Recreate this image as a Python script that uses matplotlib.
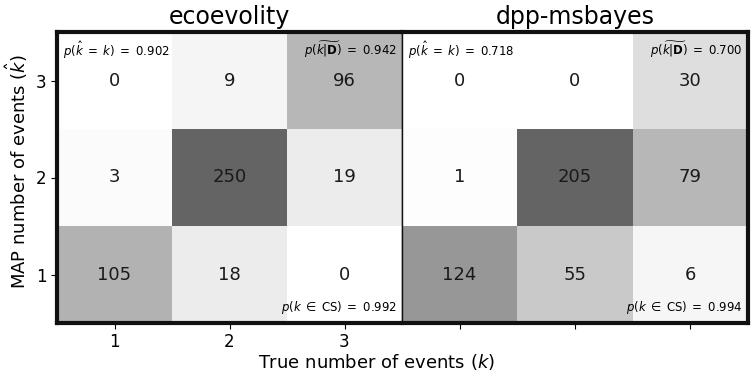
import numpy as np
import matplotlib
matplotlib.use("Agg")
import matplotlib.pyplot as plt
from matplotlib.colors import LinearSegmentedColormap, PowerNorm

plt.rcParams['font.family'] = ['DejaVu Sans']
plt.rcParams['mathtext.fontset'] = 'dejavusans'

methods = ["ecoevolity", "dpp-msbayes"]
true_k = [1, 2, 3]
map_k = [1, 2, 3]
# rows: MAP k = 1,2,3 ; cols: true k = 1,2,3
counts_ecoevolity = [[105, 18, 0],
                     [3, 250, 19],
                     [0, 9, 96]]
counts_dpp = [[124, 55, 6],
              [1, 205, 79],
              [0, 0, 30]]
p_correct = [0.902, 0.718]
p_median = [0.942, 0.700]
p_cs = [0.992, 0.994]

cmap = LinearSegmentedColormap.from_list("g", ["#ffffff", "#646464"])

fig = plt.figure(figsize=(7.51, 3.75), dpi=100)
W, H = 751, 375
left0, right1 = 57, 748
mid = 402
top, bottom = 32, 323
axes = []
axes.append(fig.add_axes([left0 / W, 1 - bottom / H, (mid - left0) / W, (bottom - top) / H]))
axes.append(fig.add_axes([mid / W, 1 - bottom / H, (right1 - mid) / W, (bottom - top) / H]))

all_counts = [counts_ecoevolity, counts_dpp]
for i, ax in enumerate(axes):
    c = np.array(all_counts[i])
    norm = PowerNorm(gamma=0.8, vmin=0, vmax=c.max())
    ax.pcolormesh(np.arange(0.5, 4.5, 1), np.arange(0.5, 4.5, 1), c, cmap=cmap, norm=norm)
    for r in range(3):
        for col in range(3):
            ax.text(true_k[col], map_k[r], str(c[r, col]), ha='center', va='center',
                    fontsize=13, color='#1a1a1a')
    ax.set_xlim(0.5, 3.5)
    ax.set_ylim(0.5, 3.5)
    ax.set_xticks(true_k)
    ax.set_title(methods[i], fontsize=17, pad=6)
    ax.text(0.018, 0.975, r"$p(\hat{k}\;=\;k)\;=$ %.3f" % p_correct[i], transform=ax.transAxes,
            ha='left', va='top', fontsize=8.5)
    ax.text(0.985, 0.975, r"$p(\widetilde{k|\mathbf{D}})\;=$ %.3f" % p_median[i], transform=ax.transAxes,
            ha='right', va='top', fontsize=8.5)
    ax.text(0.985, 0.025, r"$p(k\;\in\;\mathrm{CS})\;=$ %.3f" % p_cs[i], transform=ax.transAxes,
            ha='right', va='bottom', fontsize=8.5)
    ax.tick_params(labelsize=12, length=4)
    for s in ax.spines.values():
        s.set_linewidth(3)
        s.set_color('#111111')

axes[0].set_yticks(map_k)
axes[0].spines['right'].set_linewidth(1.0)
axes[1].spines['left'].set_linewidth(1.0)
axes[1].set_yticks([])
axes[1].set_xticklabels([])

fig.text(17 / W, 1 - 172 / H, r"MAP number of events ($\hat{k}$)", rotation=90,
         ha='center', va='center', fontsize=13)
fig.text(376 / W, 1 - 362 / H, r"True number of events ($k$)", ha='center', va='center', fontsize=13)

fig.savefig("out.png", dpi=100)
